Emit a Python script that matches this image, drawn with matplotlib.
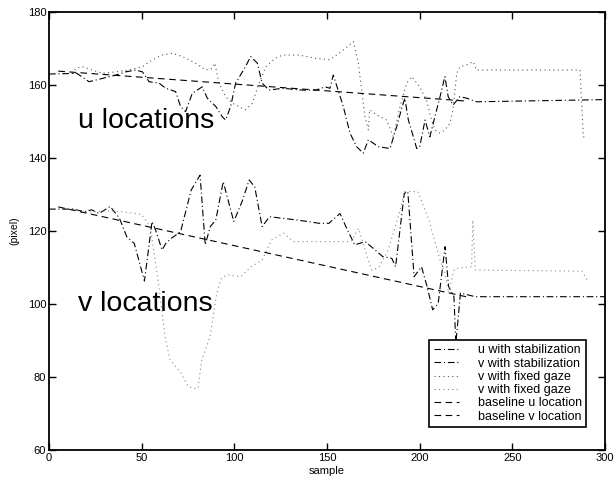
import numpy as np
import matplotlib
matplotlib.use('Agg')
import matplotlib.pyplot as plt

plt.rcParams['font.family'] = ['Liberation Sans', 'DejaVu Sans']

# u with stabilization
u_stab_x = [0, 15, 21.6, 28.8, 36, 41.4, 46.8, 50.4, 54, 59.4, 63, 68.3, 71, 73.7, 77.3, 82.7,
            85.4, 90, 93.5, 95.3, 98, 100.7, 106, 108.8, 112.4, 115, 118.7, 126, 136.7, 144, 149,
            151.6, 153.4, 156, 158.8, 162.4, 166, 169.6, 172.3, 177.7, 184, 187.6, 190.3, 192,
            193.9, 196.6, 198.4, 200, 202.9, 205.5, 208.2, 211, 213.6, 215.4, 218, 221.7, 225.3,
            230.7, 300]
u_stab_y = [163, 163.2, 160.9, 161.8, 162.7, 163.6, 164.1, 163.6, 160.9, 160.5, 159.1, 158.2,
            154.1, 152.7, 157.7, 159.5, 156.4, 154.1, 151.3, 150.4, 154.1, 160.5, 165, 167.8, 166,
            160.5, 158.6, 159.1, 158.6, 158.6, 159.5, 159.1, 162.7, 158.6, 154.1, 146.8, 143.1,
            141.3, 145, 143.1, 142.6, 148.6, 153.6, 156.4, 150.4, 145.8, 142.6, 143, 150.4, 145.8,
            151.3, 156.8, 162.3, 156.8, 154.5, 156.8, 156.4, 155.4, 156]

# v with stabilization
v_stab_x = [0, 13, 19, 23, 27, 33, 36, 38, 42, 46, 51.5, 55.6, 57.5, 61, 63, 66, 71, 76.7, 81.5,
            84.3, 87, 90, 94, 99.7, 104.5, 108, 111, 115, 119, 134, 146, 151, 157, 161, 165,
            170.6, 176, 180, 185, 187, 191.7, 193.6, 197, 201, 204, 207, 210, 213.7, 215.6,
            218.5, 219.5, 222, 230, 300]
v_stab_y = [126, 126, 125.3, 125.8, 124.8, 126.7, 124.8, 123.5, 118.4, 116.6, 106.3, 122.6,
            120.3, 114.8, 116.6, 118, 119.8, 131.2, 135.3, 116.2, 121.2, 123, 133.5, 122.6, 128.5,
            134, 132.1, 121.2, 123.9, 123, 122.1, 122.1, 124.8, 120.3, 116.2, 117.1, 114.8, 113,
            112.5, 110.2, 130.3, 130.8, 107.5, 110.2, 104.8, 98.4, 100.2, 115.7, 104.8, 102, 89,
            103, 102, 102]

# u with fixed gaze (labelled "v" in the original legend)
u_fix_x = [13, 14.4, 18, 23.4, 28.8, 36, 43, 50.4, 55.8, 61, 66.5, 72, 79, 84.5, 88, 89.5, 91.7,
           95.3, 99, 102.5, 106, 109.7, 113.3, 117, 122, 126, 135, 144, 151.6, 158.8, 164.2,
           166.9, 168.7, 170.5, 172.3, 173, 176.8, 182.2, 185.8, 189.4, 193, 195.7, 200, 203.7,
           206.4, 208.2, 211, 213.6, 216.3, 218, 220, 221.7, 225.3, 228.9, 230.7, 286.5, 288.3,
           290]
u_fix_y = [163, 164.6, 165, 164.1, 163.2, 163.6, 164.1, 165, 166.9, 168.2, 168.7, 167.8, 166,
           164.1, 164.5, 166, 160.5, 156.8, 155, 154.1, 153.2, 155, 160.5, 165, 167.3, 168.2,
           168.2, 167.3, 166.9, 169.6, 171.9, 166, 158.6, 151.3, 147.7, 153.2, 151.8, 150.4,
           145.8, 154.1, 160.5, 162.3, 159.5, 155.9, 150.4, 147.7, 146.8, 147.7, 149.5, 153.2,
           163.2, 165, 165.5, 166.4, 164.1, 164.1, 145.8, 145.8]

# v with fixed gaze
v_fix_x = [13, 19, 30, 38, 44, 50, 54.5, 57, 59.5, 62.6, 65.3, 70.7, 75, 77.6, 80.4, 82.4, 86.9,
           90.5, 93, 96, 103.5, 109, 115, 120, 126.5, 132, 153, 163, 167, 170.6, 174, 178, 183,
           189, 192, 199, 205, 211, 213.7, 215.6, 218.5, 220, 228, 228.7, 230, 287.5, 291]
v_fix_y = [126, 125, 125.5, 125.3, 125, 124.5, 121.2, 113, 104, 91, 84.7, 81.5, 77.5, 76.9, 76.9,
           84.7, 91, 103, 107, 108, 107.5, 110.2, 112, 117.5, 119.4, 117.1, 117.1, 117.1, 120.7,
           114.8, 109.3, 110, 114.8, 124.8, 130.8, 130.8, 123, 112, 108.4, 103, 109.3, 109.8,
           110.2, 123, 109.3, 109, 106.1]

# straight baselines
base_u_x = [5, 225]
base_u_y = [163.8, 155.6]
base_v_x = [5, 225]
base_v_y = [126.6, 102]

fig = plt.figure(figsize=(6.16, 4.82), dpi=100)
ax = fig.add_axes([49/616, 32/482, 556/616, 438/482])

lw = 0.8
ax.plot(u_stab_x, u_stab_y, color='black', lw=lw, linestyle=(0, (6, 2.5, 1, 2.5)), label='u with stabilization')
ax.plot(v_stab_x, v_stab_y, color='black', lw=lw, linestyle=(0, (6, 2.5, 1, 2.5)), label='v with stabilization')
ax.plot(u_fix_x, u_fix_y, color='#555555', lw=lw, linestyle=(0, (1, 3)), label='v with fixed gaze')
ax.plot(v_fix_x, v_fix_y, color='#888888', lw=lw, linestyle=(0, (1, 3)), label='v with fixed gaze')
ax.plot(base_u_x, base_u_y, color='black', lw=lw, linestyle=(0, (6, 4)), label='baseline u location')
ax.plot(base_v_x, base_v_y, color='black', lw=lw, linestyle=(0, (6, 4)), label='baseline v location')

ax.text(15.5, 150, 'u locations', fontsize=20.5, va='center', ha='left')
ax.text(15.5, 100, 'v locations', fontsize=20.5, va='center', ha='left')

ax.set_xlim(0, 300)
ax.set_ylim(60, 180)
ax.set_xticks(np.arange(0, 301, 50))
ax.set_yticks(np.arange(60, 181, 20))
ax.tick_params(direction='in', length=5, width=1, labelsize=8, top=True, right=True, pad=2)
for s in ax.spines.values():
    s.set_linewidth(1.3)
ax.set_xlabel('sample', fontsize=8, labelpad=2)
ax.set_ylabel('(pixel)', fontsize=7.5, labelpad=6)

leg = ax.legend(loc='lower right', bbox_to_anchor=(0.966, 0.0525), borderaxespad=0,
                fontsize=9, handlelength=2.0, labelspacing=0.1, fancybox=False,
                framealpha=1, edgecolor='black', borderpad=0.35, handletextpad=1.5)
leg.get_frame().set_linewidth(1.2)

fig.savefig('out.png', dpi=100)
